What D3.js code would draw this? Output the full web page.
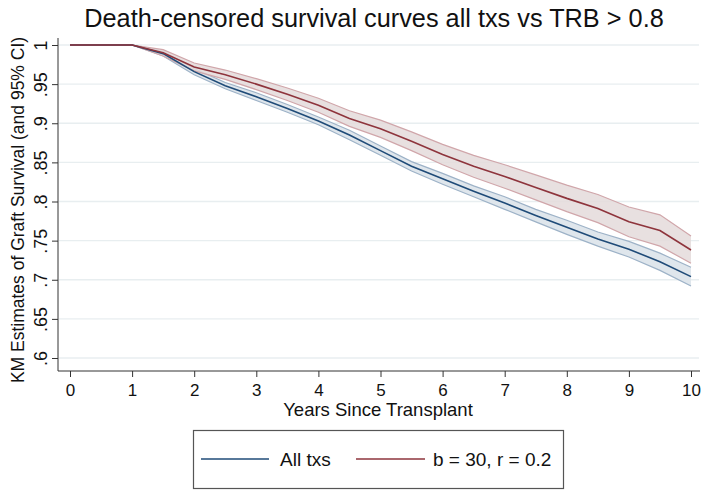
<!DOCTYPE html>
<html><head><meta charset="utf-8">
<script src="https://cdn.jsdelivr.net/npm/d3@7/dist/d3.min.js"></script>
<style>body{margin:0;background:#fff}svg{display:block;font-family:"Liberation Sans",Arial,sans-serif}</style>
</head><body><svg id="c" width="709" height="496"></svg>
<script>
const years     = [0,0.5,1,1.5,2,2.5,3,3.5,4,4.5,5,5.5,6,6.5,7,7.5,8,8.5,9,9.5,10];
const allTxs    = [1,1,1,0.989,0.966,0.948,0.934,0.919,0.903,0.885,0.865,0.845,0.829,0.813,0.798,0.782,0.767,0.752,0.739,0.723,0.704];
const allLo     = [1,1,1,0.986,0.962,0.944,0.929,0.914,0.898,0.879,0.859,0.839,0.822,0.806,0.790,0.774,0.758,0.743,0.729,0.712,0.692];
const allHi     = [1,1,1,0.992,0.970,0.952,0.939,0.924,0.908,0.891,0.871,0.851,0.836,0.820,0.806,0.790,0.776,0.761,0.749,0.734,0.716];
const trb       = [1,1,1,0.990,0.972,0.962,0.950,0.937,0.923,0.906,0.893,0.877,0.860,0.845,0.832,0.818,0.804,0.791,0.774,0.763,0.738];
const trbLo     = [1,1,1,0.986,0.967,0.956,0.943,0.929,0.914,0.896,0.882,0.865,0.847,0.831,0.817,0.802,0.787,0.773,0.755,0.743,0.721];
const trbHi     = [1,1,1,0.994,0.977,0.968,0.957,0.945,0.932,0.916,0.904,0.889,0.873,0.859,0.847,0.834,0.821,0.809,0.793,0.783,0.756];
const xTicks    = [0,1,2,3,4,5,6,7,8,9,10];
const yTicks    = [0.6,0.65,0.7,0.75,0.8,0.85,0.9,0.95,1];
const yLabels   = [".6",".65",".7",".75",".8",".85",".9",".95","1"];
const seriesNames = ["All txs","b = 30, r = 0.2"];

const svg = d3.select("#c");
const x = d3.scaleLinear().domain([0,10]).range([70,691]);
const y = d3.scaleLinear().domain([0.6,1]).range([358,45]);

// title
svg.append("text").attr("x",374).attr("y",27).attr("text-anchor","middle")
  .attr("font-size",25.3).attr("fill","#111").text("Death-censored survival curves all txs vs TRB > 0.8");

// gridlines
svg.append("g").selectAll("line").data(yTicks).join("line")
  .attr("x1",59).attr("x2",699).attr("y1",d=>y(d)).attr("y2",d=>y(d))
  .attr("stroke","#e8eef0").attr("stroke-width",1.3);

const series = [
  {v:allTxs, lo:allLo, hi:allHi, line:"#1f4b78", fill:"#dfe6ec", edge:"#9db2c7"},
  {v:trb, lo:trbLo, hi:trbHi, line:"#8e343c", fill:"rgba(228,218,218,0.85)", edge:"#d0a6aa"}
];
const area = d3.area().x((d,i)=>x(years[i])).y0(d=>y(d[0])).y1(d=>y(d[1]));
const line = d3.line().x((d,i)=>x(years[i])).y(d=>y(d));

series.forEach(s=>{
  const pairs = s.lo.map((l,i)=>[l,s.hi[i]]);
  svg.append("path").attr("d",area(pairs)).attr("fill",s.fill).attr("stroke","none");
  svg.append("path").attr("d",line(s.lo)).attr("fill","none").attr("stroke",s.edge).attr("stroke-width",1.2);
  svg.append("path").attr("d",line(s.hi)).attr("fill","none").attr("stroke",s.edge).attr("stroke-width",1.2);
});
series.forEach(s=>{
  svg.append("path").attr("d",line(s.v)).attr("fill","none").attr("stroke",s.line).attr("stroke-width",1.6);
});

// y axis
const yAxis = svg.append("g").attr("transform","translate(58,0)")
  .call(d3.axisLeft(y).tickValues(yTicks).tickSize(6).tickFormat((d,i)=>yLabels[i]));
yAxis.attr("font-size",null).attr("font-family",null);
yAxis.select(".domain").remove();
svg.append("line").attr("x1",58).attr("x2",58).attr("y1",38).attr("y2",371).attr("stroke","#333").attr("stroke-width",1);
yAxis.selectAll(".tick line").attr("stroke","#333");
yAxis.selectAll(".tick text")
  .attr("font-size",18).attr("fill","#111")
  .attr("x",0).attr("y",0).attr("dy",0)
  .attr("text-anchor","middle")
  .attr("transform","translate(-11,0) rotate(-90)");

// x axis
const xAxis = svg.append("g").attr("transform","translate(0,371)")
  .call(d3.axisBottom(x).tickValues(xTicks).tickSize(6).tickFormat(d3.format("d")));
xAxis.attr("font-size",null).attr("font-family",null);
xAxis.select(".domain").remove();
svg.append("line").attr("x1",58).attr("x2",700).attr("y1",371).attr("y2",371).attr("stroke","#333");
xAxis.selectAll(".tick line").attr("stroke","#333");
xAxis.selectAll(".tick text").attr("font-size",17).attr("fill","#111").attr("y",25).attr("dy",0);

svg.append("text").attr("x",378).attr("y",416).attr("text-anchor","middle")
  .attr("font-size",18.5).attr("fill","#111").text("Years Since Transplant");
svg.append("text").attr("transform","translate(24,210) rotate(-90)").attr("text-anchor","middle")
  .attr("font-size",17.5).attr("fill","#111").text("KM Estimates of Graft Survival (and 95% CI)");

// legend
svg.append("rect").attr("x",193.5).attr("y",430.5).attr("width",370).attr("height",58)
  .attr("fill","#fff").attr("stroke","#555").attr("stroke-width",1.2);
const leg = [{x1:201,x2:269,tx:280,c:series[0].line},{x1:356,x2:425,tx:433,c:series[1].line}];
leg.forEach((l,i)=>{
  svg.append("line").attr("x1",l.x1).attr("x2",l.x2).attr("y1",459).attr("y2",459).attr("stroke",l.c).attr("stroke-width",1.6);
  svg.append("text").attr("x",l.tx).attr("y",466).attr("font-size",19).attr("fill","#111").text(seriesNames[i]);
});
</script></body></html>
